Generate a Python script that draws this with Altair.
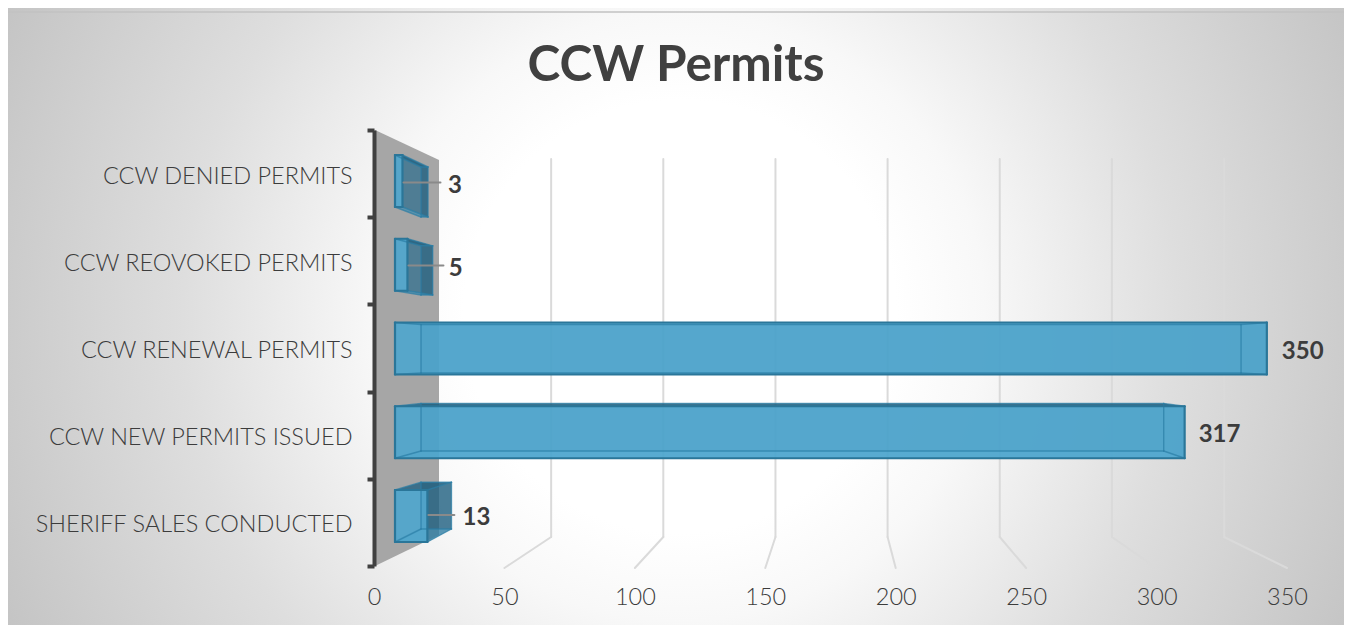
import altair as alt
import pandas as pd

categories = ["CCW DENIED PERMITS", "CCW REOVOKED PERMITS", "CCW RENEWAL PERMITS",
              "CCW NEW PERMITS ISSUED", "SHERIFF SALES CONDUCTED"]
values = [3, 5, 350, 317, 13]
tick_values = [0, 50, 100, 150, 200, 250, 300, 350]
label_gaps = [20, 16, 15, 14, 11]
leader_reach = [38, 36, 0, 0, 27]

W, H = 1336, 617
X0, PX = 366.0, 913.0 / 350.0
INK = "#3c3c3c"
FONT = "Lato"


def u(px):
    return (px - 8 - X0) / PX


def front_x(v):
    return 395 + v * 2.491


def back_x(v):
    return 421 + v * 2.343


def wall_x(v):
    return 439 + v * 2.243


def yy(abs_y):
    return abs_y - 8


faces, edges = [], []


def polygon(name, pts, color):
    xs = sorted({p[0] for p in pts})
    n = len(pts)
    for x in xs:
        ys = []
        for i in range(n):
            (x1, y1), (x2, y2) = pts[i], pts[(i + 1) % n]
            lo, hi = min(x1, x2), max(x1, x2)
            if lo <= x <= hi:
                if x1 == x2:
                    ys += [y1, y2]
                else:
                    ys.append(y1 + (y2 - y1) * (x - x1) / (x2 - x1))
        faces.append(dict(face=name, x=u(x), y=yy(min(ys)), y2=yy(max(ys)), color=color))


def edge(p, q, color, width):
    edges.append(dict(x=u(p[0]), x2=u(q[0]), y=yy(p[1]), y2=yy(q[1]), color=color, width=width))


polygon("wall", [(375, 130), (439, 160), (439, 535), (375, 566)], "#a6a6a6")

for v in tick_values[1:]:
    wx, ax = wall_x(v), 374 + v * PX
    edge((wx, 159), (wx, 537), "#dadada", 2)
    edge((wx, 537), (ax, 568), "#dadada", 2)
grid = edges
edges = []

DARK = "rgba(30,95,128,0.55)"
FRONT = "rgba(78,167,207,0.88)"
TOP = "rgba(28,92,125,0.7)"
BOTTOM = "rgba(52,140,182,0.5)"
LEFT = "rgba(36,120,160,0.2)"
OUT = "#2a7699"
IN = "rgba(42,125,165,0.7)"

leaders, labels = [], []
for i, (c, v) in enumerate(zip(categories, values)):
    ft, fb = 155 + 83.75 * i, 207 + 83.75 * i
    bt, bb = 167 + 78.8 * i, 217 + 78 * i
    fx, bx = front_x(v), back_x(v)
    L0, L1 = 395, 421
    polygon(f"b{i}", [(L1, bt), (bx, bt), (bx, bb), (L1, bb)], DARK)
    polygon(f"r{i}", [(fx, ft), (bx, bt), (bx, bb), (fx, fb)], DARK)
    polygon(f"l{i}", [(L0, ft), (L1, bt), (L1, bb), (L0, fb)], LEFT)
    polygon(f"t{i}", [(L0, ft), (fx, ft), (bx, bt), (L1, bt)], TOP)
    polygon(f"u{i}", [(L0, fb), (fx, fb), (bx, bb), (L1, bb)], BOTTOM)
    polygon(f"f{i}", [(L0, ft), (fx, ft), (fx, fb), (L0, fb)], FRONT)
    for p, q in [((L1, bt), (bx, bt)), ((bx, bt), (bx, bb)), ((bx, bb), (L1, bb)), ((L1, bb), (L1, bt)),
                 ((L0, ft), (L1, bt)), ((fx, ft), (bx, bt)), ((L0, fb), (L1, bb)), ((fx, fb), (bx, bb))]:
        edge(p, q, IN, 1.4)
    for p, q in [((L0, ft), (fx, ft)), ((fx, ft), (fx, fb)), ((fx, fb), (L0, fb)), ((L0, fb), (L0, ft))]:
        edge(p, q, OUT, 2.2)
    ly = 182.5 + 83.1 * i
    tip = max(fx, bx)
    if leader_reach[i]:
        leaders.append(dict(x=u(fx + 1), x2=u(fx + leader_reach[i]), y=yy(ly), y2=yy(ly), color="#8a8a8a", width=2))
    labels.append(dict(x=u(tip + label_gaps[i]), y=yy(185.5 + 83.2 * i), label=str(v)))

x_scale = alt.Scale(domain=[-X0 / PX, (W - X0) / PX], range=[0, W], nice=False, zero=False)
y_scale = alt.Scale(domain=[0, H], range=[0, H], nice=False, zero=False)
X = alt.X("x:Q", scale=x_scale, axis=None)
Y = alt.Y("y:Q", scale=y_scale, axis=None, stack=False)

gradient = {
    "gradient": "radial", "x1": 0.503, "y1": 0.5, "r1": 0.0, "x2": 0.503, "y2": 0.5, "r2": 0.6,
    "stops": [
        {"offset": 0.0, "color": "#ffffff"},
        {"offset": 0.27, "color": "#ffffff"},
        {"offset": 0.38, "color": "#f8f8f8"},
        {"offset": 0.62, "color": "#dedede"},
        {"offset": 0.95, "color": "#c2c2c2"},
        {"offset": 1.0, "color": "#bcbcbc"},
    ],
}

one = alt.Data(values=[{"a": 1}])
background = alt.Chart(one).mark_rect(fill=gradient).encode(
    x=alt.value(0), x2=alt.value(W), y=alt.value(0), y2=alt.value(H))
top_line = alt.Chart(one).mark_rule(color="#c2c2c2", strokeWidth=1.5).encode(
    x=alt.value(0), x2=alt.value(W), y=alt.value(4))


def area_layer(rows):
    return alt.Chart(pd.DataFrame(rows)).mark_area(orient="vertical", interpolate="linear", opacity=1).encode(
        x=X, y=Y, y2=alt.Y2("y2:Q"), detail="face:N",
        color=alt.Color("color:N", scale=None))


def rule_layer(rows):
    return alt.Chart(pd.DataFrame(rows)).mark_rule(strokeCap="round").encode(
        x=X, x2=alt.X2("x2:Q"), y=Y, y2=alt.Y2("y2:Q"),
        color=alt.Color("color:N", scale=None), strokeWidth=alt.StrokeWidth("width:Q", scale=None))


wall = [f for f in faces if f["face"] == "wall"]
boxes = [f for f in faces if f["face"] != "wall"]

text = alt.Chart(pd.DataFrame(labels)).mark_text(
    align="left", baseline="middle", font=FONT, fontWeight="bold", fontSize=24, color=INK
).encode(x=X, y=Y, text="label:N")

table = pd.DataFrame({"category": categories, "value": values})
axes = alt.Chart(table).mark_point(opacity=0).encode(
    x=alt.X("value:Q", scale=x_scale, axis=alt.Axis(
        values=tick_values, title=None, orient="bottom", offset=-28, grid=False, domain=False, ticks=False,
        labelPadding=0, labelBaseline="middle", labelFont=FONT, labelFontWeight=300, labelFontSize=23.5,
        labelColor=INK, labelFlush=False, labelOverlap=False, labelBound=False, zindex=1)),
    y=alt.Y("category:N", sort=None, scale=alt.Scale(type="band", domain=categories, range=[122, 558],
                                                     paddingInner=0, paddingOuter=0),
            axis=alt.Axis(title=None, orient="left", offset=-X0, domainWidth=4, domainColor="#404040", tickColor="#404040",
                          tickSize=7, tickWidth=4, tickBand="extent", labelPadding=15, labelOffset=2.5, labelFont=FONT,
                          labelFontWeight=300, labelFontSize=23.5, labelColor=INK, labelLimit=0, zindex=1,
                          labelOverlap=False, labelBound=False, grid=False)),
)

chart = alt.layer(
    background, top_line, area_layer(wall), rule_layer(grid), area_layer(boxes),
    rule_layer(edges), rule_layer(leaders), text, axes
).resolve_scale(y="independent").resolve_axis(x="independent").properties(
    width=W, height=H, padding=0,
    autosize=alt.AutoSizeParams(type="none", contains="content"),
    title=alt.TitleParams("CCW Permits", font=FONT, fontSize=49.5, fontWeight="bold", color="#404040",
                          anchor="middle", dy=99, frame="group"),
).configure_view(stroke=None).configure(background="#ffffff")

chart.save("out.html", embed_options={"renderer": "svg", "actions": False})
